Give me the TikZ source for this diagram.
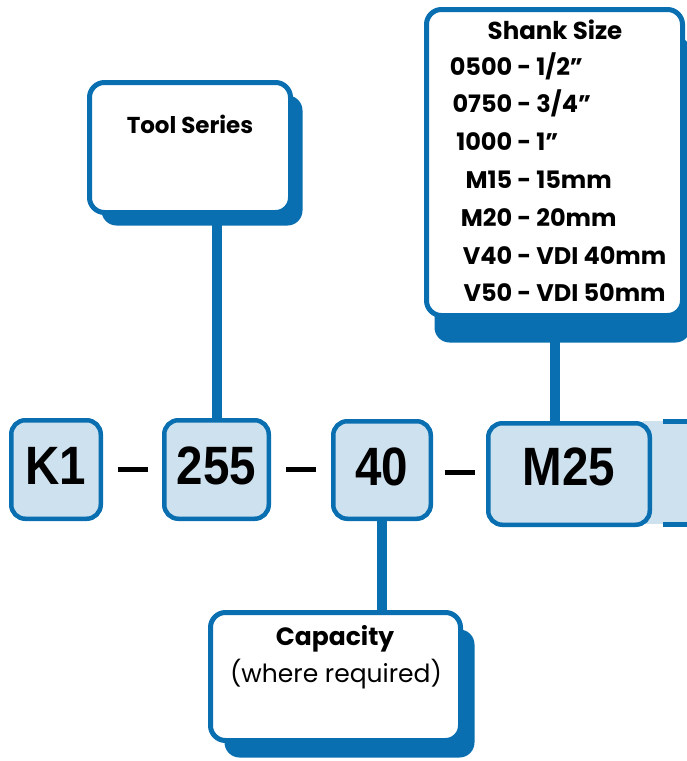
\documentclass[tikz,border=0pt]{standalone}
\usepackage{fontspec}
\setmainfont{Poppins}
\newfontfamily\codefont[FakeStretch=0.88]{Liberation Sans}
\usetikzlibrary{calc,shadows}
\definecolor{kblue}{RGB}{10,111,176}
\definecolor{kpale}{RGB}{205,225,238}

\begin{document}
\begin{tikzpicture}[x=1pt,y=-1pt,
	codebox/.style={draw=kblue,fill=kpale,line width=4.5pt,rounded corners=14pt,inner sep=0pt,
		text depth=7pt,font=\codefont\bfseries\fontsize{54}{54}\selectfont},
	notebox/.style 2 args={draw=kblue,fill=white,line width=5pt,rounded corners=15pt,inner sep=0pt,
		drop shadow={shadow xshift=#1,shadow yshift=#2,opacity=1,fill=kblue}},
	head/.style={anchor=base,font=\bfseries\fontsize{23}{28}\selectfont},
	link/.style={draw=kblue,line width=10pt},
	joiner/.style={draw=black,line width=5pt}]
	
	\useasboundingbox (0,0) rectangle (687,761);
	\clip (0,0) rectangle (687,761);
	
	% next code box, cut off at the edge
	\fill[kpale] (643,421) rectangle (690,524);
	\draw[kblue,line width=5pt] (663,421) -- (690,421);
	\draw[kblue,line width=5pt] (663,524) -- (690,524);
	
	% Code boxes
	\node[codebox,minimum width=89.5pt,minimum height=98.5pt] (k1) at (56,469.5) {K1};
	\node[codebox,minimum width=104.5pt,minimum height=98.5pt] (series) at (216.5,469.5) {255};
	\node[codebox,minimum width=97.5pt,minimum height=97.5pt] (cap) at (382,470) {40};
	\node[codebox,minimum width=161.5pt,minimum height=101.5pt,text depth=15pt] (shank) at (569,474) {M25};
	
	% Dashes between the codes
	\draw[joiner] ($(k1.east)!0.5!(series.west)$) +(-15,0) -- +(15,0);
	\draw[joiner] ($(series.east)!0.5!(cap.west)$) +(-15,0) -- +(15,0);
	\draw[joiner] ($(cap.east)!0.5!(shank.west)$) +(-15,0) -- +(15,0);
	
	% Note boxes
	\node[notebox={12pt}{-13pt},minimum width=201pt,minimum height=130pt] (seriesnote) at (190,147.5) {};
	\node[notebox={8pt}{-27pt},minimum width=256pt,minimum height=306pt] (shanknote) at (554.5,162.5) {};
	\node[notebox={14pt}{-17pt},minimum width=250pt,minimum height=128pt] (capnote) at (335.5,676.5) {};
	
	% Texts in the notes
	\node[head] (seriestitle) at (190,133) {Tool Series};
	\node[head,font=\bfseries\fontsize{24.5}{28}\selectfont] (shanktitle) at (555,39) {Shank Size};
	\node[head,font=\bfseries\fontsize{24}{37.8}\selectfont] (shanklist) at (558,75) {%
		\begin{tabular}[t]{@{}r@{ - }l@{}}
			0500 & 1/2"\\
			0750 & 3/4"\\
			1000 & 1"\\
			M15 & 15mm\\
			M20 & 20mm\\
			V40 & VDI 40mm\\
			V50 & VDI 50mm
		\end{tabular}};
	\node[head,font=\bfseries\fontsize{25}{28}\selectfont] (captitle) at (335,645) {Capacity};
	\node[anchor=base,font=\fontsize{25}{28}\selectfont] (capnotetext) at (336,682) {(where required)};
	
	% Connectors
	\draw[link] (series.north) -- (series.north |- seriesnote.south);
	\draw[link] (shanknote.south) -- (shanknote.south |- shank.north);
	\draw[link] (cap.south) -- (cap.south |- capnote.north);
	
\end{tikzpicture}
\end{document}
